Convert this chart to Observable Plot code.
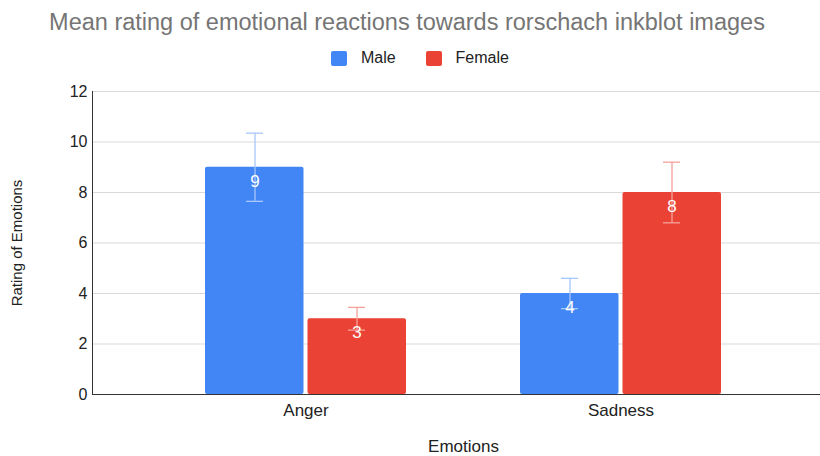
<!DOCTYPE html>
<html><head><meta charset="utf-8">
<script src="https://cdn.jsdelivr.net/npm/d3@7"></script>
<script src="https://cdn.jsdelivr.net/npm/@observablehq/plot@0.6"></script>
<style>
html,body{margin:0;padding:0;background:#fff;overflow:hidden}
body{width:820px;height:456px;font-family:"Liberation Sans",Arial,sans-serif}
#head{position:relative;height:80px;width:820px}
#title{position:absolute;top:11px;left:0;width:814px;text-align:center;font-size:23.5px;line-height:1;color:#757575;white-space:nowrap}
.sw{position:absolute;top:51px;width:16px;height:15px;border-radius:2px}
.lab{position:absolute;top:49.6px;font-size:16px;line-height:1;color:#222;white-space:nowrap}
#chart{width:820px;height:376px;overflow:hidden}
#chart svg{max-width:none !important}
</style></head>
<body>
<div id="head">
  <div id="title">Mean rating of emotional reactions towards rorschach inkblot images</div>
  <div id="legend"></div>
</div>
<div id="chart"></div>
<script>
const emotions = ["Anger", "Sadness"];
const genders = ["Male", "Female"];
const maleMeans = [9, 4];
const femaleMeans = [3, 8];
const maleErrors = [1.35, 0.6];
const femaleErrors = [0.45, 1.2];
const yTicks = [0, 2, 4, 6, 8, 10, 12];
const barColors = ["#4285f4", "#ea4335"];
const errorColors = ["#a8c7fa", "#f5a29b"];

const male = emotions.map((e, i) => ({emotion: e, mean: maleMeans[i], err: maleErrors[i]}));
const female = emotions.map((e, i) => ({emotion: e, mean: femaleMeans[i], err: femaleErrors[i]}));

// legend (HTML, above the SVG)
const legend = document.getElementById("legend");
const swatchLeft = [331, 426];
const labelLeft = [361, 455.5];
genders.forEach((g, i) => {
  const sw = document.createElement("div");
  sw.className = "sw";
  sw.style.left = swatchLeft[i] + "px";
  sw.style.background = barColors[i];
  legend.appendChild(sw);
  const lb = document.createElement("div");
  lb.className = "lab";
  lb.style.left = labelLeft[i] + "px";
  lb.textContent = g;
  legend.appendChild(lb);
});

const series = [
  {data: male, color: barColors[0], ecolor: errorColors[0], side: -1},
  {data: female, color: barColors[1], ecolor: errorColors[1], side: 1}
];

const marks = [
  Plot.gridY(yTicks, {stroke: "#d9d9d9", strokeOpacity: 1})
];
for (const s of series) {
  const left = s.side < 0;
  marks.push(
    Plot.barY(s.data, {x: "emotion", y: "mean", fill: s.color, rx: 2,
      insetLeft: left ? 0 : 102.5, insetRight: left ? 102.5 : 0}),
    Plot.ruleX(s.data, {x: "emotion", y1: d => d.mean - d.err, y2: d => d.mean + d.err,
      stroke: s.ecolor, strokeWidth: 1.3, dx: s.side * 51}),
    Plot.tickY(s.data, {x: "emotion", y: d => d.mean + d.err, stroke: s.ecolor, strokeWidth: 1.3,
      insetLeft: left ? 41 : 143, insetRight: left ? 143 : 41}),
    Plot.tickY(s.data, {x: "emotion", y: d => d.mean - d.err, stroke: s.ecolor, strokeWidth: 1.3,
      insetLeft: left ? 41 : 143, insetRight: left ? 143 : 41}),
    Plot.text(s.data, {x: "emotion", y: "mean", text: d => String(d.mean), fill: "#fff",
      fontSize: 17, dx: s.side * 51, dy: 14})
  );
}
marks.push(
  Plot.ruleY([0], {stroke: "#333", strokeWidth: 1.2}),
  Plot.frame({anchor: "left", stroke: "#333"}),
  Plot.axisY(yTicks, {tickSize: 0, tickPadding: 5, fontSize: 16, fill: "#222",
    label: null}),
  Plot.axisY({ticks: [], tickSize: 0, fontSize: 15, fill: "#222",
    label: "Rating of Emotions", labelAnchor: "center", labelOffset: 81, labelArrow: "none"}),
  Plot.axisX({tickSize: 0, tickPadding: 9, fontSize: 17, fill: "#222",
    label: "Emotions", labelAnchor: "center", labelOffset: 57, labelArrow: "none"})
);

const chart = Plot.plot({
  width: 834,
  height: 376,
  marginTop: 11,
  marginBottom: 62,
  marginLeft: 92,
  marginRight: 0,
  style: {fontFamily: "'Liberation Sans', Arial, sans-serif", fontSize: "14px", color: "#222", background: "#fff", maxWidth: "none"},
  x: {domain: emotions, paddingInner: 0.362, paddingOuter: 0.3587, label: null},
  y: {domain: [0, 12], label: null},
  marks
});
chart.style.maxWidth = "none";
document.getElementById("chart").appendChild(chart);
</script>
</body></html>
